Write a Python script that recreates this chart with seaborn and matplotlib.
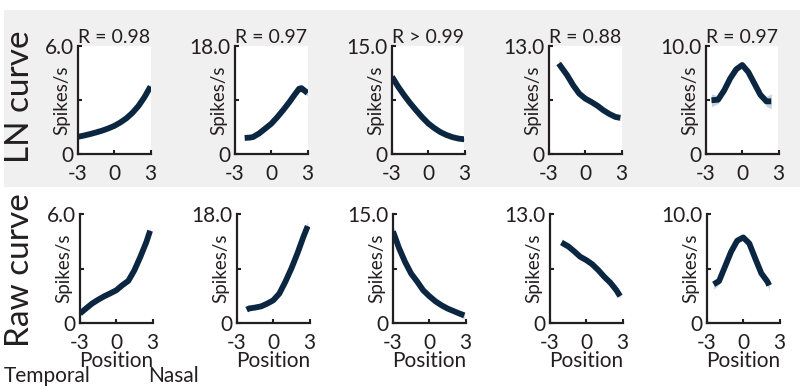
import matplotlib
matplotlib.use("Agg")
import matplotlib.pyplot as plt
import seaborn as sns
import numpy as np
import pandas as pd
from matplotlib.patches import Rectangle

sns.set_theme(style="ticks")
plt.rcParams['font.family'] = ['Lato', 'DejaVu Sans']

# ---------------- data ----------------
row_labels = ["LN curve", "Raw curve"]
r_labels = ["R = 0.98", "R = 0.97", "R > 0.99", "R = 0.88", "R = 0.97"]
y_max = [6.0, 18.0, 15.0, 13.0, 10.0]
x_ticks = [-3, 0, 3]
x_tick_labels = ["-3", "0", "3"]

# LN curve row
ln1_x = [-3, -2.5, -2, -1.5, -1, -0.5, 0, 0.5, 1, 1.5, 2, 2.5, 3]
ln1_y = [0.98, 1.05, 1.13, 1.22, 1.32, 1.44, 1.58, 1.77, 2.0, 2.3, 2.68, 3.17, 3.76]
ln1_ci = [0.05, 0.04, 0.04, 0.04, 0.04, 0.04, 0.04, 0.04, 0.05, 0.06, 0.08, 0.1, 0.15]

ln2_x = [-2.2, -1.8, -1.5, -1, -0.5, 0, 0.5, 1, 1.5, 2, 2.3, 2.5, 2.75, 3]
ln2_y = [2.75, 2.8, 2.9, 3.5, 4.3, 5.1, 6.2, 7.4, 8.7, 10.1, 10.9, 11.0, 10.6, 10.2]
ln2_ci = [0.3, 0.2, 0.2, 0.15, 0.15, 0.15, 0.15, 0.2, 0.25, 0.4, 0.6, 0.6, 0.5, 0.5]

ln3_x = [-3, -2.5, -2, -1.5, -1, -0.5, 0, 0.5, 1, 1.5, 2, 2.5, 3]
ln3_y = [10.75, 9.4, 8.2, 7.1, 6.1, 5.15, 4.3, 3.65, 3.1, 2.7, 2.4, 2.2, 2.1]
ln3_ci = [0.2, 0.15, 0.1, 0.1, 0.1, 0.1, 0.1, 0.1, 0.1, 0.1, 0.1, 0.1, 0.15]

ln4_x = [-2.2, -2, -1.5, -1, -0.5, 0, 0.5, 1, 1.5, 2, 2.5, 2.9]
ln4_y = [10.9, 10.5, 9.5, 8.3, 7.3, 6.7, 6.3, 5.85, 5.3, 4.85, 4.5, 4.4]
ln4_ci = [0.5, 0.4, 0.3, 0.2, 0.2, 0.15, 0.15, 0.2, 0.2, 0.25, 0.3, 0.35]

ln5_x = [-2.55, -2, -1.5, -1, -0.5, 0, 0.5, 1, 1.5, 2, 2.4]
ln5_y = [5.0, 5.05, 5.9, 7.0, 7.85, 8.25, 7.6, 6.55, 5.5, 4.9, 4.9]
ln5_ci = [0.6, 0.35, 0.25, 0.2, 0.15, 0.15, 0.15, 0.2, 0.3, 0.45, 0.7]

# Raw curve row
raw1_x = [-3, -2.5, -2, -1.5, -1, -0.5, 0, 0.5, 1, 1.5, 2, 2.5, 2.8]
raw1_y = [0.52, 0.8, 1.07, 1.28, 1.47, 1.63, 1.8, 2.08, 2.32, 2.9, 3.65, 4.47, 5.08]
raw1_ci = [0.06, 0.05, 0.05, 0.05, 0.05, 0.05, 0.05, 0.05, 0.05, 0.07, 0.08, 0.12, 0.2]

raw2_x = [-2.2, -2, -1.5, -1, -0.5, 0, 0.5, 1, 1.5, 2, 2.5, 2.85]
raw2_y = [2.2, 2.4, 2.55, 2.75, 3.2, 3.75, 4.85, 6.8, 9.0, 11.5, 14.25, 16.0]
raw2_ci = [0.3, 0.2, 0.2, 0.2, 0.2, 0.2, 0.2, 0.25, 0.3, 0.35, 0.5, 0.8]

raw3_x = [-3, -2.5, -2, -1.5, -1, -0.5, 0, 0.5, 1, 1.5, 2, 2.5, 2.9]
raw3_y = [12.6, 10.3, 8.4, 6.8, 5.7, 4.5, 3.7, 3.0, 2.45, 2.0, 1.65, 1.3, 1.05]
raw3_ci = [0.9, 0.6, 0.45, 0.35, 0.3, 0.3, 0.3, 0.3, 0.3, 0.3, 0.35, 0.4, 0.5]

raw4_x = [-2.05, -1.5, -1, -0.5, 0, 0.5, 1, 1.5, 2, 2.5, 2.8]
raw4_y = [9.6, 9.15, 8.55, 7.9, 7.5, 7.0, 6.3, 5.5, 4.8, 3.9, 3.2]
raw4_ci = [0.45, 0.3, 0.2, 0.15, 0.15, 0.15, 0.15, 0.15, 0.2, 0.2, 0.25]

raw5_x = [-2.45, -2, -1.5, -1, -0.5, 0, 0.5, 1, 1.5, 2, 2.15]
raw5_y = [3.55, 3.85, 5.2, 6.55, 7.55, 7.85, 7.3, 5.9, 4.55, 3.8, 3.45]
raw5_ci = [0.45, 0.3, 0.2, 0.15, 0.15, 0.15, 0.15, 0.15, 0.2, 0.35, 0.45]

rows = [
    [(ln1_x, ln1_y, ln1_ci), (ln2_x, ln2_y, ln2_ci), (ln3_x, ln3_y, ln3_ci),
     (ln4_x, ln4_y, ln4_ci), (ln5_x, ln5_y, ln5_ci)],
    [(raw1_x, raw1_y, raw1_ci), (raw2_x, raw2_y, raw2_ci), (raw3_x, raw3_y, raw3_ci),
     (raw4_x, raw4_y, raw4_ci), (raw5_x, raw5_y, raw5_ci)],
]

# ---------------- layout ----------------
W, H = 800, 388
fig = plt.figure(figsize=(W / 100, H / 100), dpi=100)
fig.patch.set_facecolor("white")

# gray band behind top row
band = Rectangle((4 / W, 1 - 187 / H), 1 - 4 / W, (187 - 10) / H,
                 transform=fig.transFigure, facecolor="#f0f0f0",
                 edgecolor="none", zorder=-10)
fig.add_artist(band)

line_color = "#0b2641"
band_color = "#b9c6d4"
txt_color = "#231f20"

col_left = [[78, 235, 392, 549, 706], [80, 237, 393, 550, 707]]
row_top = [46, 214]
row_bottom = [154.5, 323]
ax_w = 72.5

for r in range(2):
    for c in range(5):
        x0 = col_left[r][c]
        ax = fig.add_axes([x0 / W, 1 - row_bottom[r] / H, ax_w / W,
                           (row_bottom[r] - row_top[r]) / H])
        ax.set_zorder(1)
        ax.set_facecolor("white")
        xs, ys, ci = rows[r][c]
        df = pd.DataFrame({"Position": xs, "rate": ys})
        lo = np.array(ys) - np.array(ci)
        hi = np.array(ys) + np.array(ci)
        ax.fill_between(xs, lo, hi, color=band_color, alpha=0.8, lw=0)
        sns.lineplot(data=df, x="Position", y="rate", ax=ax, color=line_color,
                     lw=4.2, solid_capstyle="butt")
        ax.set_xlim(-3, 3)
        ax.set_ylim(0, y_max[c])
        ax.set_xticks(x_ticks)
        ax.set_xticklabels(x_tick_labels)
        ym = y_max[c]
        ax.set_yticks([0, ym / 2, ym])
        ax.set_yticklabels(["0", "", f"{ym:.1f}"])
        for s in ["top", "right"]:
            ax.spines[s].set_visible(False)
        for s in ["left", "bottom"]:
            ax.spines[s].set_color(txt_color)
            ax.spines[s].set_linewidth(1.6)
        ax.tick_params(direction="in", length=3, width=1.5, color=txt_color,
                       labelsize=15, labelcolor=txt_color)
        ax.tick_params(axis="y", pad=3)
        ax.tick_params(axis="x", pad=7)
        ax.set_ylabel("Spikes/s", fontsize=13.5, color=txt_color)
        ax.yaxis.set_label_coords(-0.11, 0.5)
        if r == 0:
            ax.set_title(r_labels[c], fontsize=14, pad=0, color=txt_color)
            ax.set_xlabel("")
        else:
            ax.set_xlabel("Position", fontsize=15, color=txt_color, labelpad=-1)

fig.text(20 / W, 1 - 97 / H, row_labels[0], rotation=90, fontsize=24,
         ha="center", va="center", color=txt_color)
fig.text(20 / W, 1 - 270 / H, row_labels[1], rotation=90, fontsize=24,
         ha="center", va="center", color=txt_color)
fig.text(4 / W, 1 - 376 / H, "Temporal", fontsize=15, ha="left", va="center",
         color=txt_color)
fig.text(199 / W, 1 - 376 / H, "Nasal", fontsize=15, ha="right", va="center",
         color=txt_color)

fig.savefig("out.png", dpi=100, facecolor="white")
